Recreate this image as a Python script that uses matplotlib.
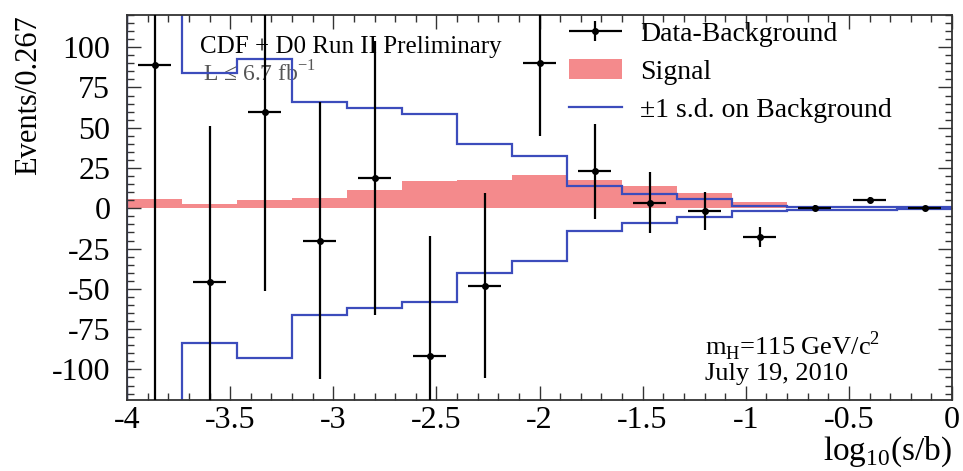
import numpy as np
import matplotlib
matplotlib.use("Agg")
import matplotlib.pyplot as plt
from matplotlib.patches import Patch
from matplotlib.lines import Line2D
from matplotlib.container import ErrorbarContainer
from matplotlib.legend_handler import HandlerErrorbar
from matplotlib.ticker import MultipleLocator

plt.rcParams['font.family'] = ['Liberation Serif', 'DejaVu Serif']
plt.rcParams['mathtext.fontset'] = 'custom'
plt.rcParams['mathtext.rm'] = 'Liberation Serif'
plt.rcParams['axes.unicode_minus'] = False

# log10(s/b) binning: 15 bins of width 0.267 from -4 to 0
bin_edges = np.linspace(-4.0, 0.0, 16)
bin_centers = 0.5 * (bin_edges[:-1] + bin_edges[1:])

# Data minus background, with its uncertainty
data_minus_bkg = [88.8, -45.5, 59.6, -20.2, 19.0, -91.5, -48.0, 90.3,
                  22.9, 3.6, -1.4, -17.9, 0.5, 5.3, 0.5]
data_err = [215.0, 96.8, 110.9, 86.0, 85.0, 74.4, 57.6, 45.6,
            29.5, 19.0, 11.8, 6.2, 1.5, 1.5, 1.0]

# Expected Higgs signal (mH = 115 GeV/c^2)
signal = [5.7, 2.8, 5.3, 6.2, 11.1, 16.7, 17.7, 20.8,
          17.7, 13.6, 9.8, 4.2, 1.2, 0.6, 0.3]

# One standard deviation of the background prediction
bkg_sd = [140.0, 83.8, 92.8, 66.3, 62.0, 58.4, 39.9, 32.6,
          14.0, 8.9, 5.7, 1.6, 1.0, 0.8, 0.7]

x_ticks = [-4, -3.5, -3, -2.5, -2, -1.5, -1, -0.5, 0]
x_tick_labels = ['-4', '-3.5', '-3', '-2.5', '-2', '-1.5', '-1', '-0.5', '0']
y_ticks = [-100, -75, -50, -25, 0, 25, 50, 75, 100]
y_tick_labels = ['-100', '-75', '-50', '-25', '0', '25', '50', '75', '100']

blue = '#3c4cbc'
pink = '#f48a8c'

fig = plt.figure(figsize=(9.63, 4.71), dpi=100)
ax = fig.add_axes([127 / 963, 1 - 400 / 471, 825 / 963, 385 / 471])

ax.stairs(signal, bin_edges, baseline=0, fill=True, color=pink,
          linewidth=0, zorder=1)
sd = np.asarray(bkg_sd)
ax.stairs(sd, bin_edges, baseline=0, color=blue, linewidth=1.6, zorder=2)
ax.stairs(-sd, bin_edges, baseline=0, color=blue, linewidth=1.6, zorder=2)

eb = ax.errorbar(bin_centers, data_minus_bkg, yerr=data_err, xerr=0.08,
                 fmt='o', color='black', ms=4, elinewidth=1.6, capsize=0,
                 zorder=3)

ax.set_xlim(-4, 0)
ax.set_ylim(-119, 120)
ax.set_xticks(x_ticks)
ax.set_xticklabels(x_tick_labels)
ax.set_yticks(y_ticks)
ax.set_yticklabels(y_tick_labels)
ax.xaxis.set_minor_locator(MultipleLocator(0.1))
ax.yaxis.set_minor_locator(MultipleLocator(5))
ax.tick_params(which='both', direction='in', top=True, right=True,
               color='#333333', width=1.0)
ax.tick_params(which='major', length=10)
ax.tick_params(which='minor', length=5)
ax.tick_params(axis='y', labelsize=23, pad=12)
ax.tick_params(axis='x', labelsize=23, pad=4)
for sp in ax.spines.values():
    sp.set_linewidth(1.3)
    sp.set_color('#333333')

ax.set_ylabel('Events/0.267', fontsize=22, loc='top')
ax.yaxis.set_label_coords(-0.119, 1.0)
ax.yaxis.label.set_va('center')

ax.set_xlabel(r'log$_{\mathregular{10}}$(s/b)', fontsize=24, loc='right')
ax.xaxis.set_label_coords(1.0, -0.156)
ax.xaxis.label.set_va('baseline')

ax.text(-3.646, 96.7, 'CDF + D0 Run II Preliminary', fontsize=18,
        va='baseline', ha='left', zorder=1)
ax.text(-3.63, 79.0, 'L ≤ 6.7 fb$^{\\mathregular{-1}}$', fontsize=17,
        va='baseline', ha='left', zorder=1, color='#555555')
ax.text(-1.198, -91.1, r'm$_{\mathregular{H}}$=115 GeV/c$^{\mathregular{2}}$',
        fontsize=19, va='baseline', ha='left', zorder=1)
ax.text(-1.198, -106.7, 'July 19, 2010', fontsize=19, va='baseline',
        ha='left', zorder=1)

handles = [eb, Patch(facecolor=pink, edgecolor='none'),
           Line2D([], [], color=blue, linewidth=1.6)]
labels = ['Data-Background', 'Signal', '±1 s.d. on Background']
ax.legend(handles, labels, loc='upper left',
          bbox_to_anchor=(569 / 963, 1 - 21 / 471),
          bbox_transform=fig.transFigure, frameon=False, fontsize=20,
          borderpad=0, borderaxespad=0, handlelength=1.9, handleheight=0.76,
          handletextpad=0.65, labelspacing=0.43,
          handler_map={ErrorbarContainer: HandlerErrorbar(xerr_size=0.95,
                                                          yerr_size=0.36)})

fig.savefig('out.png', dpi=100)
